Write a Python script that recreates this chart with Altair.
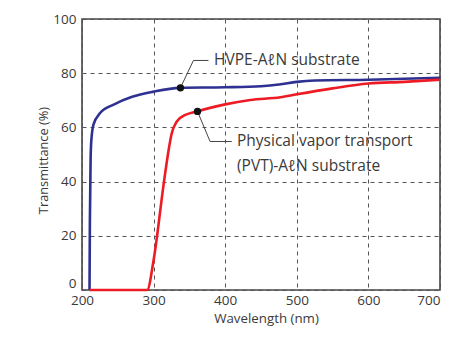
import altair as alt
import pandas as pd

# Data
hvpe_wl = [210.5, 211, 212, 213, 216, 225, 245, 270, 300, 337, 400, 450, 475, 500, 525, 600, 700]
hvpe_t = [0, 25, 48, 55, 61, 65.2, 68.5, 71.3, 73.2, 74.6, 74.8, 75.2, 75.8, 76.8, 77.3, 77.6, 78.3]

pvt_wl = [210.5, 291, 300, 314, 320, 325, 332, 340, 361, 400, 435, 477, 500, 550, 600, 650, 700]
pvt_t = [0, 0, 11, 39, 50, 57.5, 62, 64, 65.9, 68.5, 70.1, 71.1, 72.2, 74.4, 76.2, 76.8, 77.6]

# annotation: dot, elbow, end of leader line
hvpe_leader_wl = [337.5, 355.6, 376.6]
hvpe_leader_t = [74.6, 84.7, 84.7]
pvt_leader_wl = [361.3, 378.9, 409.2]
pvt_leader_t = [65.9, 54.8, 54.8]

label_wl = [384.5, 416.5, 416.5]
label_t = [84.7, 55, 45.8]
label_text = ["HVPE-A\u2113N substrate", "Physical vapor transport", "(PVT)-A\u2113N substrate"]

BLUE = "#2E3192"
RED = "#ED1C24"
TXT = "#3a3a3a"
FONT = "Open Sans"

df = pd.concat([
    pd.DataFrame({"wl": hvpe_wl, "t": hvpe_t, "s": "HVPE", "o": range(len(hvpe_wl))}),
    pd.DataFrame({"wl": pvt_wl, "t": pvt_t, "s": "PVT", "o": range(len(pvt_wl))}),
])

xs = alt.Scale(domain=[200, 700], nice=False)
ys = alt.Scale(domain=[0, 100], nice=False)

xax = alt.Axis(values=[200, 300, 400, 500, 600, 700], title="Wavelength (nm)",
               grid=True, gridDash=[4, 4], gridColor="#555", gridWidth=1,
               ticks=False, domain=False, labelPadding=3, labelFontSize=13.5,
               labelFlush=False, labelOverlap=False,
               labelAlign={"condition": {"test": "datum.value == 700", "value": "right"},
                           "value": "center"},
               labelFont=FONT, labelColor=TXT, titleFont=FONT, titleFontSize=13.3,
               titleFontWeight="normal", titleColor=TXT, titlePadding=5, titleX=184)
yax = alt.Axis(values=[0, 20, 40, 60, 80, 100], title="Transmittance (%)",
               grid=True, gridDash=[4, 4], gridColor="#555", gridWidth=1,
               ticks=False, domain=False, labelPadding=6, labelFontSize=13.5,
               labelFlush=False, labelOverlap=False,
               labelBaseline={"condition": {"test": "datum.value == 0", "value": "bottom"},
                              "value": "middle"},
               labelFont=FONT, labelColor=TXT, titleFont=FONT, titleFontSize=12.8,
               titleFontWeight="normal", titleColor=TXT, titlePadding=2, titleY=141)

lines = alt.Chart(df).mark_line(strokeWidth=2.6, interpolate="monotone").encode(
    x=alt.X("wl:Q", scale=xs, axis=xax),
    y=alt.Y("t:Q", scale=ys, axis=yax),
    color=alt.Color("s:N", scale=alt.Scale(domain=["HVPE", "PVT"], range=[BLUE, RED]), legend=None),
    order="o:Q",
)

ldf = pd.concat([
    pd.DataFrame({"wl": hvpe_leader_wl, "t": hvpe_leader_t, "g": "a", "o": [0, 1, 2]}),
    pd.DataFrame({"wl": pvt_leader_wl, "t": pvt_leader_t, "g": "b", "o": [0, 1, 2]}),
])
leaders = alt.Chart(ldf).mark_line(color="#444", strokeWidth=1).encode(
    x=alt.X("wl:Q", scale=xs), y=alt.Y("t:Q", scale=ys), detail="g:N", order="o:Q")

ddf = pd.DataFrame({"wl": [hvpe_leader_wl[0], pvt_leader_wl[0]], "t": [hvpe_leader_t[0], pvt_leader_t[0]]})
dots = alt.Chart(ddf).mark_circle(size=55, color="#111", opacity=1).encode(
    x=alt.X("wl:Q", scale=xs), y=alt.Y("t:Q", scale=ys))

tdf = pd.DataFrame({"wl": label_wl, "t": label_t, "txt": label_text})
texts = alt.Chart(tdf).mark_text(align="left", baseline="middle", font=FONT, fontSize=15.5,
                                 color=TXT).encode(
    x=alt.X("wl:Q", scale=xs), y=alt.Y("t:Q", scale=ys), text="txt:N")

chart = alt.layer(lines, leaders, dots, texts).properties(
    width=358, height=271,
    autosize=alt.AutoSizeParams(type="none"),
    padding={"left": 74, "top": 11, "right": 3, "bottom": 40},
).configure_view(stroke="#444", strokeWidth=1.6)

chart.save("out.html", embed_options={"renderer": "svg", "actions": False})
